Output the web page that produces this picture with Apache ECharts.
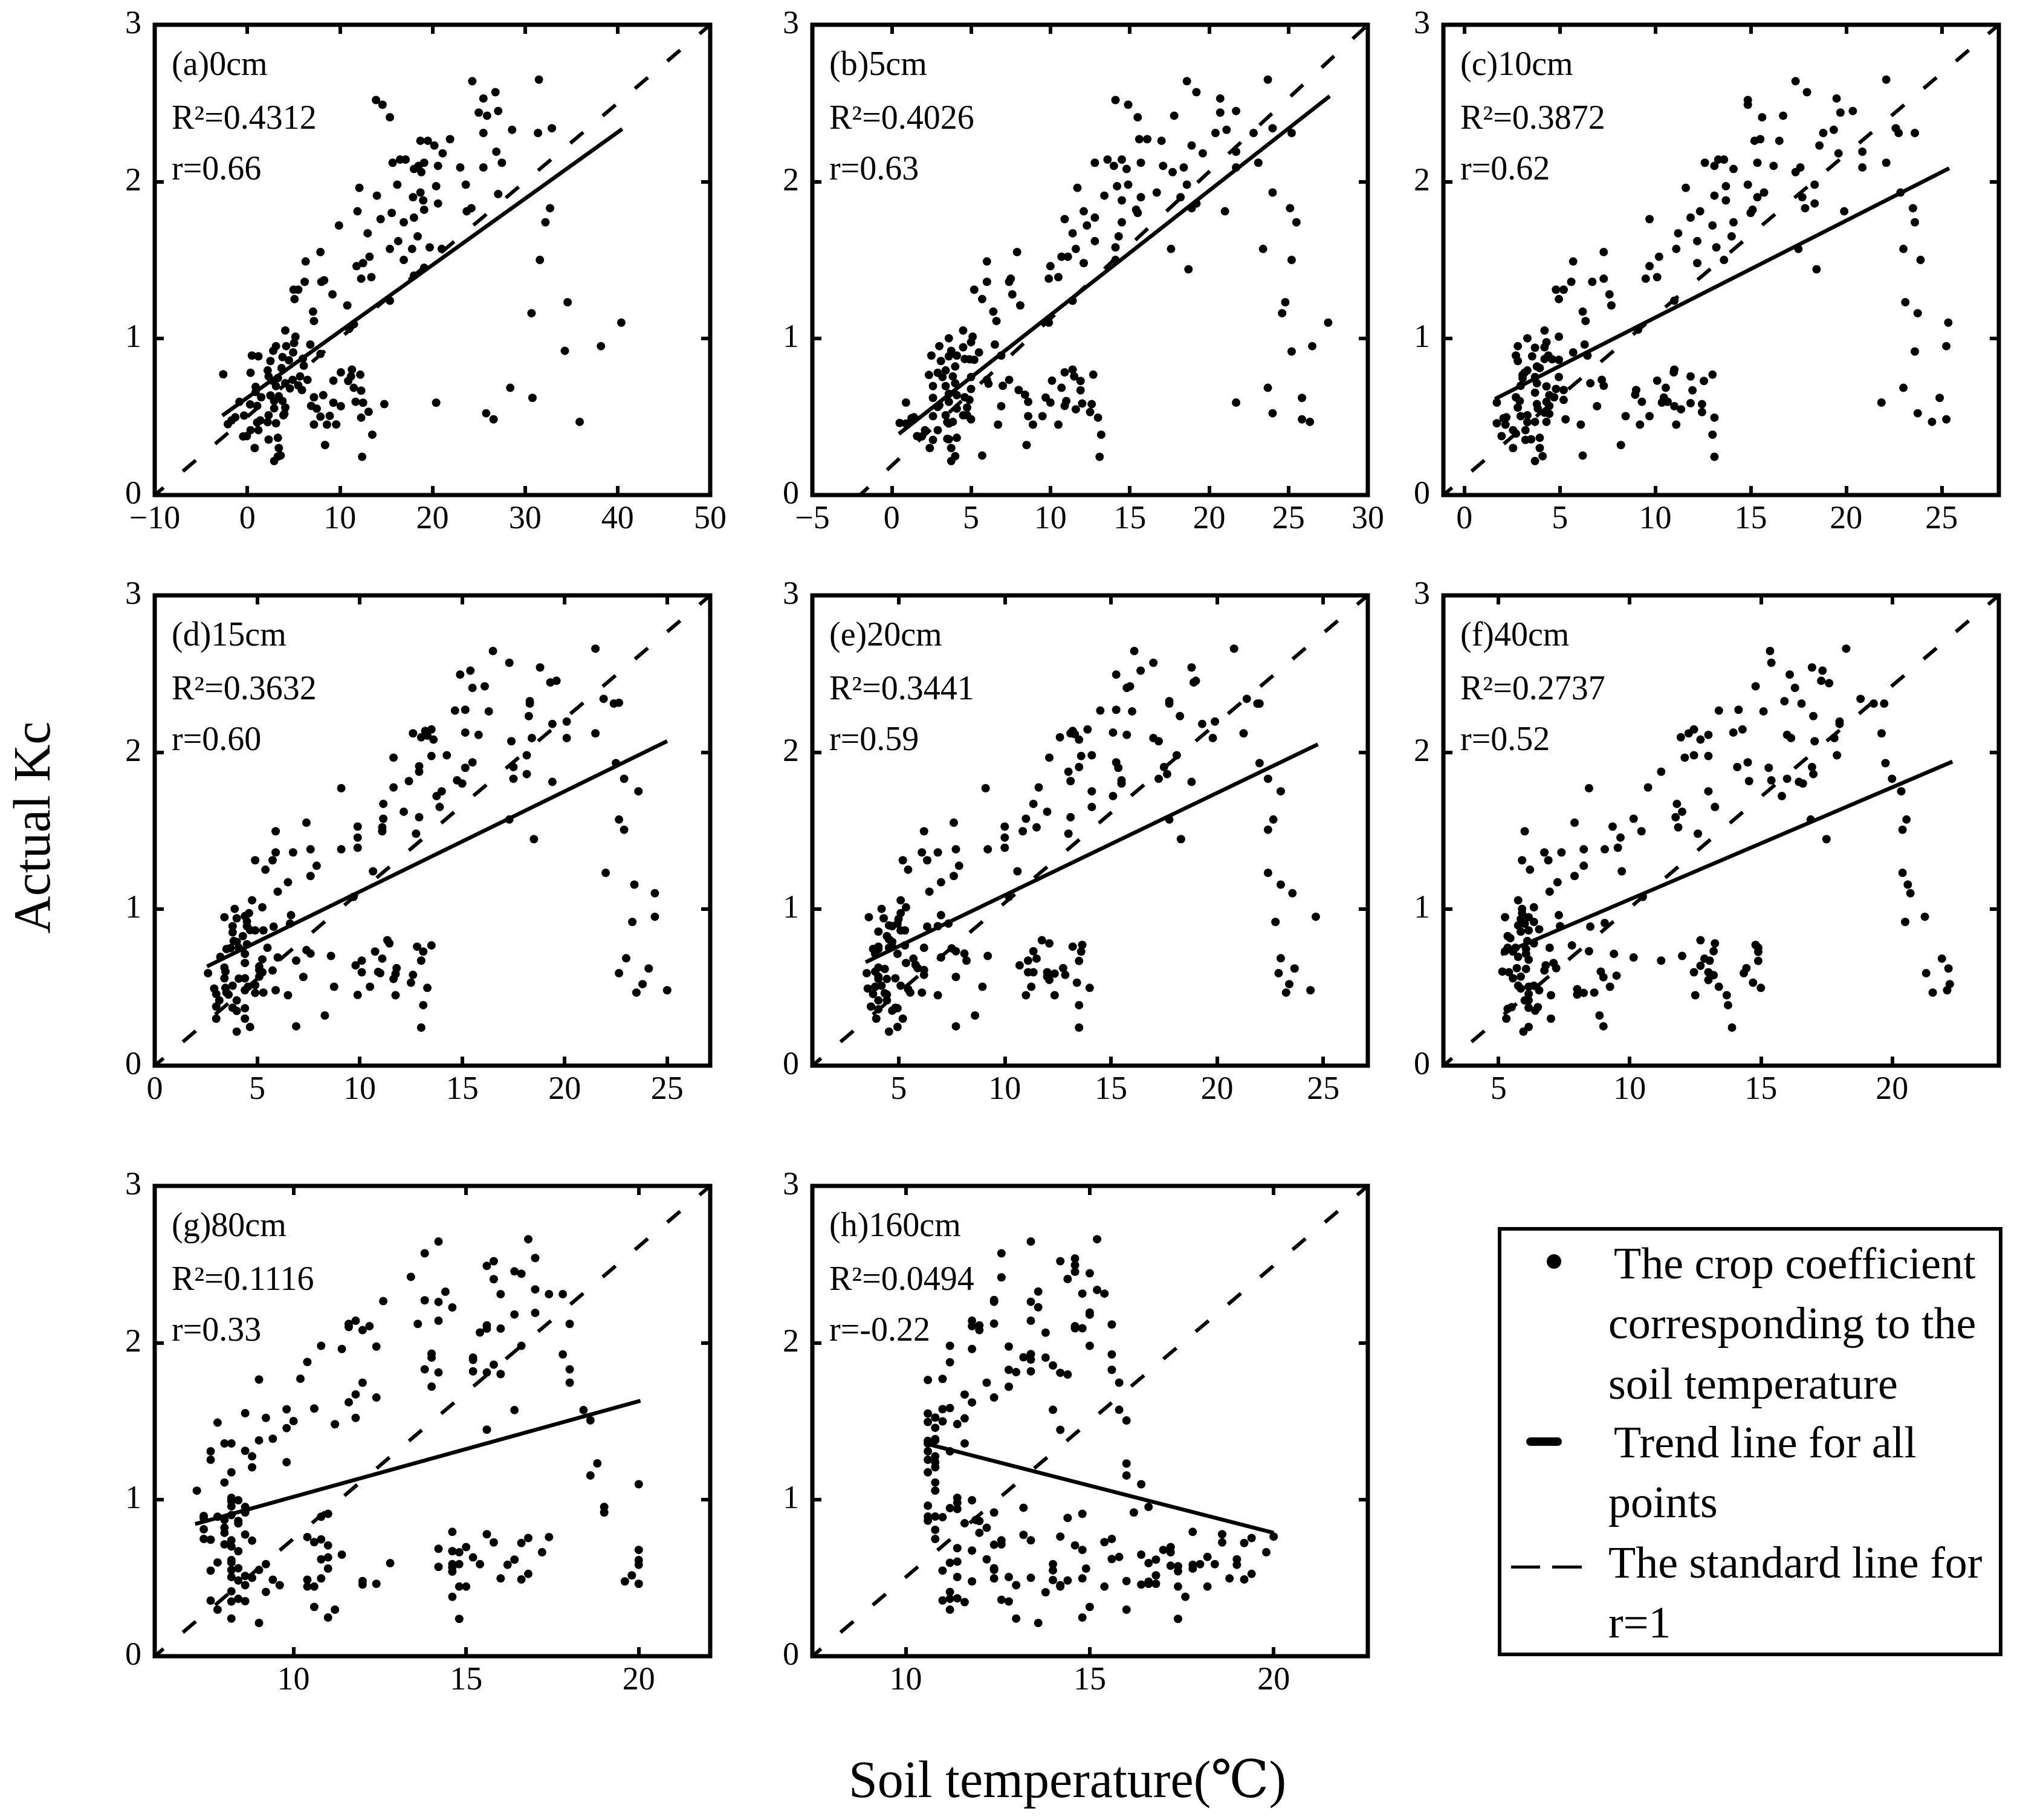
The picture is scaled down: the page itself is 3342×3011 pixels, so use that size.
<!DOCTYPE html>
<html><head><meta charset="utf-8">
<style>html,body{margin:0;padding:0;background:#fff}#c{width:3342px;height:3011px}</style>
<script src="https://cdn.jsdelivr.net/npm/echarts@6/dist/echarts.min.js"></script>
</head><body><div id="c"></div>
<script>
const pointsA=[[24.3,2.64],[31.5,2.65],[26.8,2.57],[25.5,2.53],[13.9,2.52],[14.6,2.49],[15.4,2.41],[25,2.44],[25.9,2.42],[27.1,2.45],[25.5,2.31],[28.6,2.33],[31.4,2.31],[32.9,2.34],[18.7,2.26],[19.5,2.26],[20.2,2.23],[21.9,2.27],[21.1,2.18],[26.9,2.19],[27.5,2.12],[15.7,2.12],[16.5,2.14],[17.1,2.14],[18,2.08],[18.5,2.1],[19.1,2.12],[18.8,2.06],[20.6,2.1],[23,2.09],[25.5,2.09],[12.1,1.96],[16.2,1.98],[20.4,1.97],[23.6,1.98],[27.1,1.92],[14,1.91],[18.7,1.93],[17.9,1.9],[19,1.88],[20.6,1.86],[24.2,1.83],[23.7,1.81],[32.7,1.83],[11.9,1.81],[15.6,1.8],[19.1,1.82],[14.4,1.76],[16.9,1.74],[18,1.77],[32.2,1.74],[9.9,1.72],[13,1.67],[16.3,1.62],[18.4,1.65],[15.4,1.57],[17.8,1.57],[19.7,1.58],[21,1.57],[7.9,1.55],[6.3,1.49],[13.2,1.52],[12.5,1.48],[11.8,1.46],[16.9,1.5],[31.6,1.5],[19.1,1.45],[18,1.4],[12.3,1.38],[13.4,1.39],[8,1.36],[8.3,1.37],[6.2,1.36],[5,1.31],[5.5,1.31],[9.2,1.28],[5.1,1.25],[15.4,1.24],[10.8,1.21],[34.6,1.23],[7.1,1.17],[7.2,1.11],[30.7,1.16],[11.5,1.09],[11,1.06],[40.4,1.1],[4.1,1.05],[5.2,1.01],[5.05,0.97],[6.8,0.96],[38.2,0.95],[34.3,0.92],[0.5,0.89],[1.2,0.885],[2.8,0.92],[3.1,0.95],[4.2,0.95],[2.5,0.855],[3.8,0.88],[4.5,0.86],[4.95,0.91],[6,0.87],[6.1,0.825],[7.9,0.9],[3.7,0.81],[0.35,0.78],[-2.6,0.77],[2.2,0.795],[2.3,0.757],[3.3,0.746],[2.7,0.73],[6.5,0.735],[5.7,0.757],[4.9,0.735],[4.1,0.713],[4.6,0.68],[5.5,0.7],[5.9,0.67],[10.1,0.783],[9.3,0.73],[11.3,0.8],[10.9,0.728],[11.2,0.757],[12.2,0.768],[11.5,0.684],[12.3,0.666],[0.9,0.69],[0.9,0.657],[2.5,0.635],[3.1,0.695],[3.4,0.63],[3.8,0.6],[1.5,0.624],[-0.85,0.595],[0.3,0.578],[1.06,0.569],[2.9,0.6],[2.9,0.553],[4.1,0.558],[4,0.518],[8.2,0.637],[7.2,0.624],[6.9,0.569],[7.5,0.551],[9.3,0.589],[10.1,0.567],[11.7,0.595],[12.5,0.589],[14.8,0.58],[20.4,0.589],[28.4,0.684],[30.8,0.62],[25.8,0.522],[26.6,0.483],[35.9,0.467],[7.9,0.5],[8.9,0.505],[12.3,0.494],[13.1,0.531],[7.2,0.45],[8.6,0.449],[9.6,0.45],[2.3,0.509],[2.2,0.465],[3.1,0.458],[3.9,0.509],[1.4,0.476],[1.06,0.463],[-0.35,0.507],[-1.3,0.496],[-1.7,0.476],[-2.1,0.452],[1.2,0.414],[0.35,0.414],[-0.45,0.374],[-0.05,0.376],[13.5,0.385],[2.3,0.354],[3.3,0.365],[0.8,0.3],[3.4,0.3],[8.4,0.319],[3.6,0.252],[3.3,0.246],[2.9,0.217],[12.4,0.244]];
const pointsB=[[23.7,2.65],[18.6,2.64],[19.2,2.57],[20.7,2.53],[14.1,2.52],[14.9,2.49],[21.7,2.45],[20.7,2.44],[17.8,2.42],[15.5,2.41],[24,2.34],[21.1,2.33],[20.4,2.31],[22.8,2.31],[25.2,2.31],[15.6,2.27],[16.1,2.27],[17,2.26],[18.9,2.23],[21.7,2.19],[19.6,2.18],[13.6,2.14],[14.5,2.14],[12.8,2.12],[14,2.1],[15.7,2.12],[17.1,2.1],[23.1,2.12],[14.8,2.08],[17.7,2.06],[18.4,2.09],[21.7,2.09],[11.7,1.96],[14.2,1.97],[14.9,1.98],[18.6,1.98],[16.7,1.93],[24,1.93],[13.4,1.91],[15.7,1.9],[18.2,1.9],[14.5,1.88],[19.2,1.86],[18.9,1.83],[25.1,1.83],[15.4,1.82],[15.5,1.8],[12.1,1.81],[21,1.81],[10.9,1.76],[12.8,1.77],[14.5,1.74],[25.5,1.74],[12.3,1.72],[11.4,1.67],[14.3,1.65],[12.8,1.62],[11.6,1.57],[14.1,1.58],[17.6,1.57],[23.4,1.57],[7.9,1.55],[10.7,1.52],[11.1,1.52],[6,1.49],[12.1,1.48],[14.1,1.5],[25.2,1.5],[10,1.46],[18.7,1.44],[9.9,1.38],[10.5,1.39],[7.4,1.36],[7.5,1.38],[6,1.36],[5.2,1.31],[7.6,1.28],[5.7,1.25],[11.4,1.24],[24.8,1.23],[8.1,1.21],[6.4,1.17],[24.6,1.16],[6.6,1.11],[9.9,1.1],[27.5,1.1],[4.5,1.05],[5.1,1.01],[3.6,1],[5,0.975],[6.5,0.96],[26.5,0.95],[3,0.95],[4.5,0.943],[25.2,0.916],[3.75,0.92],[5.5,0.91],[2.5,0.89],[3.6,0.885],[4.1,0.89],[6.9,0.89],[4.6,0.868],[4.9,0.866],[5.2,0.863],[3.1,0.855],[4,0.82],[3.4,0.795],[2.9,0.78],[2.35,0.766],[3.2,0.753],[3.85,0.757],[5,0.753],[12.7,0.768],[11.4,0.8],[10.9,0.783],[11.5,0.757],[11.9,0.728],[10.1,0.73],[7.4,0.735],[6,0.735],[6.1,0.71],[7,0.697],[2.6,0.695],[3.4,0.695],[4,0.713],[5,0.677],[10.7,0.684],[11.9,0.668],[8,0.67],[8.4,0.64],[9.7,0.622],[10,0.59],[3.6,0.646],[4.1,0.637],[2.6,0.62],[4.6,0.624],[4.9,0.607],[8.6,0.595],[0.9,0.59],[3.6,0.595],[11,0.6],[10.9,0.569],[12,0.584],[12.6,0.58],[6.9,0.567],[2.9,0.562],[3,0.573],[4.75,0.558],[4.1,0.551],[11.6,0.547],[12.5,0.529],[4.5,0.509],[4.75,0.509],[3.4,0.509],[2.6,0.503],[8.6,0.503],[9.5,0.503],[5,0.483],[13,0.494],[1.4,0.496],[1.25,0.49],[0.5,0.46],[0.9,0.456],[3.5,0.465],[3.85,0.467],[3.6,0.456],[6.7,0.449],[8.9,0.449],[10.5,0.449],[2.1,0.414],[2.9,0.414],[1.6,0.376],[1.9,0.374],[13.2,0.385],[4.1,0.365],[3.5,0.359],[3.6,0.356],[2.6,0.352],[8.5,0.319],[2.4,0.3],[3.75,0.3],[5.7,0.252],[4,0.248],[13.1,0.244],[3.75,0.217],[21.7,0.59],[23.7,0.684],[25.85,0.62],[24,0.522],[25.85,0.483],[26.35,0.467]];
const pointsC=[[22.1,2.65],[17.35,2.64],[17.95,2.57],[19.5,2.53],[14.85,2.52],[14.85,2.49],[19.7,2.44],[20.35,2.45],[16.7,2.42],[15.6,2.41],[22.6,2.34],[22.75,2.31],[19.35,2.33],[18.8,2.31],[23.6,2.31],[15.2,2.26],[15.5,2.27],[16.5,2.26],[18.6,2.23],[20.85,2.19],[19.6,2.18],[13.3,2.14],[13.6,2.14],[12.6,2.12],[13.1,2.1],[15.35,2.12],[16.2,2.1],[22.1,2.12],[14.1,2.08],[17.35,2.06],[17.6,2.09],[20.85,2.09],[11.6,1.96],[14.85,1.98],[13.7,1.97],[18.35,1.98],[15.7,1.93],[22.85,1.93],[13.1,1.91],[15.35,1.9],[17.7,1.9],[13.7,1.88],[18.35,1.86],[17.85,1.83],[23.5,1.83],[15.1,1.82],[15,1.8],[12.35,1.81],[19.9,1.81],[9.7,1.76],[11.85,1.77],[14.1,1.74],[23.6,1.74],[13,1.72],[11.2,1.67],[14,1.65],[12.2,1.62],[11.1,1.57],[13.2,1.58],[17.5,1.57],[23,1.57],[7.3,1.55],[10.2,1.52],[5.7,1.49],[12.2,1.48],[13.6,1.5],[23.9,1.5],[9.7,1.46],[18.45,1.44],[9.5,1.38],[10.1,1.39],[6.7,1.36],[7.3,1.38],[5.6,1.36],[4.8,1.31],[5.2,1.31],[7.6,1.28],[4.95,1.25],[11,1.24],[23.1,1.23],[7.7,1.21],[6.2,1.17],[23.75,1.16],[6.35,1.11],[9.1,1.055],[25.35,1.1],[4.2,1.05],[4.95,1.01],[3.3,1],[4.3,0.975],[6.3,0.96],[25.25,0.95],[2.8,0.95],[4.2,0.943],[23.6,0.916],[3.7,0.94],[5.7,0.91],[2.7,0.89],[3.55,0.885],[4.4,0.89],[6.45,0.89],[4.2,0.868],[4.6,0.866],[4.95,0.863],[2.8,0.855],[3.8,0.82],[3.95,0.81],[3.3,0.795],[3.15,0.78],[3.05,0.766],[3.05,0.745],[3.7,0.753],[4.95,0.753],[13,0.768],[11,0.8],[10.97,0.783],[11.85,0.757],[12.55,0.728],[10.1,0.73],[7.2,0.735],[6.6,0.713],[7.3,0.697],[2.95,0.697],[3.8,0.713],[4.3,0.693],[5.2,0.67],[10.55,0.684],[11.95,0.668],[4.8,0.677],[9,0.67],[8.95,0.64],[10.45,0.622],[10.65,0.595],[3.7,0.653],[4.45,0.637],[2.7,0.624],[4.7,0.624],[4.3,0.595],[1.7,0.59],[3.8,0.58],[2.9,0.6],[2.8,0.558],[5.2,0.607],[9.3,0.595],[10.35,0.59],[11,0.567],[11.85,0.586],[12.45,0.58],[6.95,0.567],[3.85,0.551],[4.45,0.569],[11.35,0.547],[12.45,0.529],[4.45,0.518],[4.2,0.525],[3.3,0.509],[2.95,0.503],[8.45,0.503],[9.7,0.503],[5.3,0.483],[13.1,0.494],[2.2,0.496],[2.05,0.49],[1.7,0.458],[2.15,0.449],[3.3,0.465],[3.7,0.467],[4.3,0.467],[6.1,0.449],[9.2,0.449],[11.1,0.449],[3.2,0.414],[2.55,0.414],[1.95,0.376],[2.7,0.392],[13,0.385],[3.95,0.365],[3.2,0.352],[3.5,0.356],[2.55,0.3],[3.95,0.3],[8.2,0.319],[6.2,0.252],[4.1,0.248],[13.1,0.244],[3.7,0.217],[23,0.684],[21.85,0.59],[24.9,0.62],[23.75,0.522],[24.5,0.467],[25.25,0.483]];
const pointsD=[[16.5,2.645],[21.5,2.66],[17.3,2.57],[18.8,2.54],[15.4,2.52],[14.9,2.495],[19.6,2.455],[19.3,2.445],[15.5,2.41],[16.1,2.42],[21.9,2.34],[18.3,2.325],[18.3,2.31],[22.4,2.31],[22.65,2.315],[14.65,2.265],[15.15,2.27],[16.3,2.26],[18.25,2.23],[20.1,2.195],[19.4,2.18],[13.2,2.135],[13.5,2.145],[12.6,2.12],[13,2.095],[13.3,2.105],[15.15,2.125],[15.8,2.11],[21.5,2.12],[13.6,2.08],[17.4,2.07],[18.4,2.09],[20.1,2.09],[11.65,1.965],[13.5,1.975],[14.25,1.98],[18.15,1.98],[15.5,1.935],[22.5,1.93],[12.9,1.91],[15.15,1.9],[17.5,1.905],[12.9,1.875],[18.15,1.86],[17.5,1.83],[22.9,1.83],[14.75,1.82],[15,1.8],[12.4,1.815],[19.4,1.81],[9.1,1.77],[11.65,1.775],[14,1.75],[23.6,1.75],[13.75,1.72],[11.15,1.67],[13.9,1.65],[12.15,1.62],[11.15,1.575],[12.9,1.585],[17.3,1.57],[22.65,1.57],[7.4,1.55],[9.9,1.525],[11.1,1.52],[11.1,1.495],[5.9,1.495],[12.75,1.48],[22.9,1.505],[9.9,1.455],[18.5,1.445],[9.9,1.39],[9.1,1.38],[7.6,1.38],[6.75,1.36],[5.9,1.36],[5.75,1.31],[4.9,1.31],[5.4,1.25],[7.9,1.275],[10.65,1.24],[22,1.23],[7.6,1.21],[6.5,1.17],[23.4,1.155],[6,1.11],[24.4,1.1],[9.7,1.077],[4.75,1.055],[5.25,1.01],[3.9,1],[4.6,0.973],[6.65,0.96],[24.4,0.95],[3.4,0.947],[4,0.94],[4.4,0.954],[4.5,0.92],[23.3,0.917],[6.6,0.906],[4.5,0.89],[3.8,0.89],[5.8,0.887],[4.65,0.865],[4.9,0.863],[5.3,0.863],[3.8,0.85],[4.3,0.826],[3.85,0.795],[4,0.79],[4.5,0.774],[3.5,0.744],[3.7,0.75],[4.1,0.752],[3.2,0.694],[5.5,0.752],[11.35,0.8],[11.45,0.78],[13.5,0.767],[12.8,0.759],[7.4,0.737],[7.6,0.715],[13.1,0.728],[10.75,0.728],[6,0.69],[8.6,0.7],[4.4,0.713],[11.1,0.683],[6.9,0.67],[10.1,0.67],[13,0.67],[4.4,0.655],[5.25,0.678],[9.8,0.64],[5.1,0.633],[3.4,0.626],[11.8,0.622],[3.45,0.6],[2.6,0.59],[5.1,0.61],[5.75,0.607],[10.1,0.596],[10.9,0.598],[11,0.59],[11.75,0.585],[5.25,0.596],[12.6,0.579],[11.65,0.553],[7.25,0.566],[3.4,0.557],[4.1,0.555],[4.4,0.557],[5.1,0.568],[12.5,0.529],[10.5,0.503],[8.75,0.503],[13.3,0.496],[4.9,0.514],[4.55,0.503],[3.8,0.51],[2.9,0.492],[3.45,0.496],[3.5,0.466],[4.4,0.481],[3,0.457],[3.6,0.453],[4.9,0.464],[5.3,0.466],[5.9,0.481],[6.5,0.449],[9.9,0.451],[11.75,0.449],[3.15,0.416],[4,0.416],[13.1,0.386],[3,0.377],[3.8,0.369],[4,0.349],[4.4,0.366],[8.3,0.32],[3,0.3],[4.4,0.3],[6.9,0.251],[4.65,0.247],[13,0.243],[4,0.217],[23,0.685],[22.65,0.59],[24.1,0.62],[23.8,0.52],[23.5,0.466],[25,0.481]];
const pointsE=[[16.1,2.645],[20.8,2.66],[17,2.57],[16.4,2.52],[18.8,2.54],[15.25,2.495],[19,2.455],[18.9,2.445],[15.75,2.41],[15.9,2.42],[21.4,2.34],[17.75,2.325],[17.75,2.31],[21.9,2.31],[22,2.31],[14.5,2.265],[15.25,2.27],[16,2.26],[18.25,2.23],[19.9,2.195],[19.3,2.18],[13.2,2.135],[13.9,2.145],[12.6,2.095],[13.1,2.12],[13.3,2.115],[15.1,2.125],[15.75,2.11],[21.25,2.12],[13.5,2.08],[17.25,2.07],[17,2.09],[19.8,2.09],[12.1,1.965],[13.6,1.975],[14.1,1.98],[18.1,1.98],[15.25,1.935],[22,1.93],[13.5,1.905],[15.35,1.9],[17.5,1.905],[13,1.875],[17.65,1.86],[17.25,1.83],[22.4,1.83],[15.5,1.82],[15.5,1.8],[13.1,1.815],[18.8,1.81],[9.1,1.77],[11.6,1.775],[14.1,1.75],[23,1.75],[15.1,1.72],[11.35,1.67],[14.1,1.65],[12,1.62],[11,1.575],[13.1,1.585],[17.75,1.57],[22.65,1.57],[7.6,1.55],[10,1.525],[11.5,1.52],[10.85,1.495],[6.2,1.495],[13,1.48],[22.4,1.505],[10,1.455],[18.3,1.445],[10,1.39],[9.2,1.38],[7.7,1.38],[6.1,1.36],[6.85,1.36],[5.2,1.31],[6.35,1.31],[5.45,1.25],[7.85,1.275],[10.6,1.24],[22.4,1.23],[7.6,1.21],[7,1.17],[23,1.155],[6.45,1.11],[23.55,1.1],[10.2,1.077],[5.1,1.055],[5.35,1.01],[4.2,1],[5.1,0.973],[7,0.96],[24.65,0.95],[3.6,0.947],[4.3,0.94],[5,0.935],[22.75,0.917],[4.95,0.906],[4.7,0.89],[7.35,0.906],[6.85,0.89],[4.55,0.895],[6.35,0.887],[5.1,0.863],[5.3,0.863],[4.05,0.855],[4.45,0.826],[4.55,0.806],[4.7,0.79],[4.05,0.759],[3.8,0.744],[4.05,0.744],[4.55,0.752],[4.7,0.759],[5.3,0.767],[6.2,0.752],[3.9,0.713],[11.75,0.8],[12.1,0.78],[13.65,0.77],[13.2,0.759],[7.5,0.748],[7.7,0.73],[13.6,0.728],[11.35,0.73],[8.1,0.715],[4.95,0.713],[9.2,0.7],[11.5,0.683],[7,0.69],[5.7,0.683],[11.1,0.67],[8.2,0.67],[13.5,0.668],[5.35,0.655],[5.8,0.643],[10.7,0.64],[12.75,0.622],[5.9,0.622],[4.05,0.626],[4.35,0.617],[3.5,0.59],[3.9,0.6],[6.2,0.61],[11.1,0.596],[11.35,0.596],[12,0.596],[12.35,0.587],[4.45,0.553],[4.05,0.568],[6.2,0.579],[12.85,0.579],[7.7,0.566],[4.05,0.553],[4.85,0.557],[12,0.568],[12.1,0.547],[13.4,0.529],[11.25,0.503],[8.95,0.503],[14,0.496],[5.1,0.51],[3.55,0.492],[4.2,0.51],[3.9,0.503],[5.45,0.488],[3.8,0.457],[4.45,0.453],[4.35,0.462],[5.55,0.466],[6.1,0.466],[6.85,0.449],[11,0.449],[12.35,0.449],[4.05,0.416],[4.45,0.416],[13.5,0.386],[3.7,0.377],[4.7,0.351],[4.95,0.366],[4.85,0.369],[4.05,0.36],[5.2,0.3],[3.95,0.3],[8.6,0.32],[7.7,0.251],[4.95,0.247],[13.5,0.243],[4.55,0.217],[23,0.685],[22.9,0.59],[23.65,0.62],[23.4,0.52],[23.25,0.466],[24.4,0.481]];
const pointsF=[[15.35,2.645],[18.25,2.66],[15.4,2.57],[16.95,2.54],[17.35,2.52],[16.1,2.495],[17.3,2.455],[17.6,2.44],[16.3,2.41],[14.8,2.42],[18.8,2.34],[15.9,2.325],[16.55,2.31],[19.3,2.31],[19.7,2.31],[13.4,2.265],[14.15,2.27],[15.1,2.26],[17,2.23],[18,2.195],[18,2.18],[12.45,2.145],[14.3,2.145],[12.25,2.12],[11.95,2.095],[13.95,2.125],[13,2.11],[19.6,2.12],[12.7,2.08],[16,2.11],[16.15,2.09],[17.05,2.07],[17.8,2.09],[12.1,1.965],[12.45,1.98],[13,1.975],[17.9,1.98],[14.5,1.935],[19.75,1.93],[14.1,1.905],[15.3,1.9],[16.95,1.905],[11.2,1.875],[17,1.86],[16,1.83],[20,1.83],[14.55,1.815],[15.4,1.82],[16.45,1.81],[16.6,1.8],[8.45,1.77],[10.7,1.775],[13,1.75],[20.35,1.75],[15.8,1.72],[11.8,1.67],[13.25,1.65],[12,1.62],[11.75,1.585],[10.15,1.575],[16.9,1.57],[20.55,1.57],[7.9,1.55],[9.35,1.525],[11.85,1.52],[10.45,1.495],[6,1.495],[12.6,1.48],[20.4,1.505],[9.65,1.455],[17.5,1.445],[9.55,1.39],[9.05,1.38],[8.25,1.38],[7.4,1.36],[6.75,1.36],[5.9,1.31],[6.9,1.31],[6.2,1.25],[8.25,1.275],[9.7,1.24],[20.4,1.23],[7.9,1.21],[7.25,1.17],[20.6,1.155],[6.95,1.11],[20.7,1.1],[10.5,1.077],[5.75,1.055],[6.35,1.01],[5.9,1],[5.9,0.973],[7.3,0.96],[21.25,0.95],[5.25,0.947],[6.15,0.947],[5.85,0.935],[20.5,0.917],[9.05,0.91],[6.35,0.917],[5.75,0.895],[6,0.905],[7.35,0.89],[8.5,0.887],[5.85,0.855],[6.15,0.863],[6.55,0.87],[5.35,0.826],[5.45,0.813],[6.1,0.795],[6.35,0.78],[5.35,0.752],[5.65,0.752],[6.05,0.743],[6.95,0.752],[7.8,0.767],[12.7,0.8],[13.25,0.78],[14.8,0.77],[14.9,0.752],[8.45,0.73],[13.2,0.73],[14.9,0.726],[5.25,0.73],[5.55,0.728],[6.05,0.713],[5.75,0.694],[6.15,0.676],[9.4,0.713],[10.15,0.69],[12,0.7],[11.2,0.67],[12.85,0.683],[13.05,0.67],[14.9,0.668],[7.1,0.655],[6.8,0.64],[12.7,0.637],[7.2,0.622],[5.7,0.622],[6.05,0.617],[14.45,0.622],[5.15,0.6],[6.75,0.607],[5.4,0.596],[8.9,0.6],[12.45,0.596],[13,0.596],[14.35,0.59],[9.5,0.574],[13.2,0.577],[5.85,0.568],[9,0.564],[5.55,0.557],[13,0.546],[14.7,0.529],[9.25,0.503],[13.4,0.503],[15,0.496],[5.75,0.51],[6.35,0.51],[6.15,0.503],[5.85,0.492],[6.55,0.481],[8,0.488],[8,0.453],[8.25,0.464],[8.65,0.466],[6.15,0.457],[7,0.449],[12.5,0.449],[13.7,0.449],[21.55,0.466],[22.1,0.481],[22.2,0.52],[22.15,0.62],[21.9,0.683],[21.3,0.59],[6,0.416],[6.15,0.416],[13.75,0.386],[5.35,0.362],[5.5,0.373],[6.15,0.369],[6.4,0.351],[6.5,0.373],[8.85,0.32],[5.3,0.3],[7,0.3],[9,0.251],[6.15,0.247],[13.9,0.243],[5.95,0.217]];
const pointsG=[[14.2,2.645],[16.8,2.66],[13.8,2.57],[17,2.54],[15.8,2.52],[15.6,2.49],[16.4,2.455],[16.6,2.44],[13.4,2.42],[15.8,2.405],[14.4,2.325],[17,2.34],[16,2.31],[17.4,2.31],[17.8,2.31],[13.8,2.27],[14.2,2.26],[12.6,2.265],[14.6,2.225],[17,2.19],[16.4,2.18],[14.2,2.14],[13.6,2.12],[11.8,2.14],[11.6,2.12],[11.6,2.1],[12.2,2.105],[12,2.08],[15.6,2.11],[15.6,2.09],[16,2.09],[18,2.12],[15.4,2.065],[10.8,1.98],[11.4,1.96],[12.4,1.975],[16.6,1.98],[14,1.93],[14,1.905],[15.2,1.905],[15.2,1.89],[17.8,1.925],[10.4,1.877],[15.8,1.86],[13.8,1.83],[14.2,1.81],[15.2,1.817],[15.6,1.81],[16,1.8],[18,1.83],[18,1.745],[9,1.765],[10.2,1.77],[12,1.745],[14,1.72],[11.8,1.67],[12.4,1.65],[11.6,1.62],[10.6,1.58],[9.8,1.575],[8.6,1.55],[16.4,1.57],[18.4,1.57],[9.2,1.52],[11.8,1.52],[7.8,1.49],[10,1.5],[11.2,1.48],[18.6,1.505],[9.8,1.455],[15.6,1.445],[9.4,1.387],[9,1.377],[8,1.357],[8.2,1.357],[7.6,1.307],[8.6,1.31],[8.8,1.275],[7.6,1.253],[9.8,1.238],[18.8,1.23],[8.8,1.205],[8.2,1.173],[18.6,1.153],[8,1.108],[20,1.097],[7.2,1.056],[8.2,1.01],[19,0.952],[8.2,0.989],[8.4,0.995],[8.2,0.956],[8.6,0.952],[8.6,0.917],[19,0.917],[11,0.908],[10.8,0.89],[7.4,0.895],[7.4,0.88],[7.8,0.89],[8,0.87],[8.2,0.9],[8.4,0.863],[8.4,0.847],[8,0.82],[7.4,0.81],[8,0.787],[14.6,0.793],[15.6,0.778],[8.6,0.776],[10.4,0.76],[17.4,0.76],[7.4,0.748],[7.6,0.743],[16.8,0.754],[8.8,0.737],[8.2,0.739],[10.8,0.745],[10.6,0.728],[15.8,0.726],[16.6,0.722],[8,0.713],[11,0.707],[8.2,0.7],[8.4,0.67],[14.2,0.685],[15,0.696],[14.6,0.67],[14.8,0.663],[20,0.678],[17.2,0.663],[11.4,0.648],[15.2,0.63],[11,0.63],[10.8,0.618],[8.2,0.613],[8.2,0.598],[16.4,0.616],[9.2,0.587],[20,0.613],[20,0.583],[12.8,0.594],[7.8,0.598],[14.8,0.587],[15.4,0.587],[16.2,0.583],[14.6,0.587],[14.2,0.57],[14.6,0.566],[8.4,0.561],[8.2,0.55],[11,0.559],[7.6,0.546],[9,0.55],[14.6,0.54],[16.8,0.525],[19.8,0.516],[8.2,0.505],[8.6,0.512],[8.8,0.5],[10.8,0.496],[16,0.496],[16.6,0.49],[8.4,0.483],[9.4,0.488],[10.4,0.488],[19.6,0.477],[12,0.479],[12,0.457],[12.4,0.462],[20,0.462],[8.6,0.453],[9.6,0.453],[10.4,0.444],[10.6,0.444],[14.8,0.444],[15,0.444],[8.2,0.414],[9.2,0.41],[14.6,0.379],[7.6,0.355],[8.4,0.366],[8.2,0.349],[8.6,0.351],[10.6,0.314],[7.8,0.297],[11.2,0.297],[8.2,0.24],[11,0.247],[14.8,0.238],[9,0.212]];
const pointsH=[[15.2,2.66],[13.4,2.645],[12.6,2.57],[14.2,2.52],[14.6,2.537],[14.6,2.495],[14.6,2.452],[15,2.443],[14.4,2.406],[12.6,2.417],[13.6,2.326],[15.2,2.337],[15.4,2.313],[14.8,2.313],[12.4,2.272],[12.4,2.261],[13.4,2.261],[13.6,2.226],[15,2.192],[15,2.179],[13.4,2.14],[11.8,2.14],[12.4,2.122],[15.6,2.116],[11.8,2.105],[12,2.11],[12,2.08],[14.6,2.105],[14.6,2.092],[14.8,2.092],[13.8,2.064],[11.2,1.98],[12.8,1.975],[15,1.98],[11.8,1.96],[13.4,1.927],[15.6,1.925],[13.2,1.907],[13.4,1.892],[13.8,1.905],[11.2,1.875],[14,1.855],[12.8,1.827],[13,1.812],[13.4,1.817],[15.6,1.827],[14.2,1.808],[14.4,1.797],[10.6,1.762],[11,1.769],[12.2,1.745],[15.8,1.745],[12.8,1.719],[11.6,1.669],[12.4,1.65],[11.8,1.619],[11,1.576],[11.2,1.583],[14,1.572],[15.8,1.572],[10.6,1.548],[10.8,1.522],[11.6,1.517],[10.6,1.494],[11,1.498],[16,1.504],[11.4,1.481],[10.8,1.457],[14.2,1.444],[10.8,1.385],[10.8,1.377],[10.6,1.374],[10.6,1.357],[11.6,1.357],[10.6,1.307],[11.2,1.307],[10.8,1.275],[10.6,1.253],[10.8,1.238],[16,1.229],[10.8,1.205],[10.6,1.173],[16,1.153],[10.8,1.108],[16.4,1.097],[10.8,1.056],[11.4,1.01],[11.8,0.995],[11.4,0.978],[10.6,0.96],[16.6,0.952],[13.2,0.947],[11.2,0.945],[11.4,0.939],[12.4,0.917],[16.2,0.917],[14.8,0.908],[14.4,0.882],[10.6,0.891],[10.8,0.891],[11,0.887],[10.6,0.865],[11.9,0.869],[12,0.863],[11.6,0.848],[12.2,0.819],[10.8,0.806],[17.8,0.793],[12,0.787],[13.2,0.774],[18.6,0.778],[14.2,0.763],[20,0.763],[15.6,0.748],[19.4,0.754],[10.8,0.748],[13.4,0.739],[15.4,0.728],[18.6,0.726],[19.2,0.722],[12.6,0.739],[12.4,0.711],[12.6,0.713],[14.6,0.707],[17.2,0.696],[11.4,0.689],[14.8,0.678],[17,0.678],[17.2,0.663],[11.8,0.674],[16.4,0.648],[19.8,0.663],[15.8,0.633],[18.2,0.633],[12.2,0.618],[15.6,0.62],[16.8,0.616],[19,0.618],[11.2,0.596],[11.4,0.603],[14,0.587],[18.4,0.587],[16.6,0.594],[19,0.583],[18,0.587],[17.2,0.577],[17.4,0.574],[17.8,0.583],[12.4,0.561],[14.9,0.559],[17.8,0.559],[11,0.546],[14,0.548],[12.4,0.551],[17.4,0.542],[19.4,0.525],[16.8,0.516],[11.4,0.505],[12.4,0.496],[12.8,0.505],[13.4,0.5],[14.8,0.496],[18.8,0.496],[14,0.486],[14.4,0.483],[16,0.479],[19.2,0.49],[11.8,0.477],[16.6,0.475],[13,0.453],[14.2,0.453],[15.4,0.444],[16.4,0.457],[16.6,0.462],[16.8,0.462],[17.4,0.444],[18.2,0.444],[14.2,0.444],[11.2,0.41],[13.8,0.408],[17.6,0.379],[11,0.356],[11.2,0.366],[11.4,0.369],[12.6,0.36],[12.8,0.349],[11.6,0.345],[11.2,0.297],[15,0.314],[16,0.297],[13,0.24],[14.8,0.247],[17.4,0.238],[13.6,0.212]];

const pointSets=[pointsA,pointsB,pointsC,pointsD,pointsE,pointsF,pointsG,pointsH];
const xRanges=[[-10,50],[-5,30],[-1.1,28],[0,27.1],[0.94,27.1],[2.9,24.07],[5.98,22.07],[7.46,22.56]];
const xTickSets=[[-10,0,10,20,30,40,50],[-5,0,5,10,15,20,25,30],[0,5,10,15,20,25],[0,5,10,15,20,25],[5,10,15,20,25],[5,10,15,20],[10,15,20],[10,15,20]];
const yTicks=[0,1,2,3];
const trendLines=[[[-2.7,0.507],[40.5,2.335]],[[0.45,0.39],[27.6,2.545]],[[1.6,0.613],[25.4,2.085]],[[2.55,0.633],[25,2.07]],[[3.45,0.66],[24.75,2.05]],[[5.1,0.71],[22.3,1.94]],[[7.15,0.843],[20.05,1.63]],[[10.6,1.353],[20,0.787]]];
const standardLines=[[[-10,0],[50,3]],[[-2,0],[30,3]],[[-1.1,0],[28,3]],[[0,0],[27.1,3]],[[0.94,0],[27.1,3]],[[2.9,0],[24.07,3]],[[5.98,0],[22.07,3]],[[7.46,0],[22.56,3]]];
const panelNames=['(a)0cm','(b)5cm','(c)10cm','(d)15cm','(e)20cm','(f)40cm','(g)80cm','(h)160cm'];
const r2Texts=['R²=0.4312','R²=0.4026','R²=0.3872','R²=0.3632','R²=0.3441','R²=0.2737','R²=0.1116','R²=0.0494'];
const rTexts=['r=0.66','r=0.63','r=0.62','r=0.60','r=0.59','r=0.52','r=0.33','r=-0.22'];
const legendLines=[['The crop coefficient',2670,2096],['corresponding to the',2661,2195],['soil temperature',2661,2295],['Trend line for all',2670,2392],['points',2661,2491],['The standard line for',2661,2591],['r=1',2661,2690]];

const FONT='"Liberation Serif","DejaVu Serif",serif';
const colLeft=[256,1344,2388], rowTop=[41,985,1962], W=919, H=778;
const grid=[],xAxis=[],yAxis=[],series=[],graphic=[];
const fmt=v=>String(v).replace('-','\u2212');
pointSets.forEach((pts,i)=>{
  const left=colLeft[i%3], top=rowTop[Math.floor(i/3)];
  grid.push({left,top,width:W,height:H,show:true,borderWidth:7,borderColor:'#000',backgroundColor:'transparent'});
  const ax=(pos,show)=>({gridIndex:i,type:'value',position:pos,min:xRanges[i][0],max:xRanges[i][1],splitLine:{show:false},axisLine:{show:false,onZero:false},
    axisTick:{show:true,inside:true,length:15,lineStyle:{width:6,color:'#000'},customValues:xTickSets[i]},
    axisLabel:{show:show,margin:14,fontFamily:FONT,fontSize:54,color:'#000',formatter:fmt,customValues:xTickSets[i],hideOverlap:false}});
  const ay=(pos,show)=>({gridIndex:i,type:'value',position:pos,min:0,max:3,splitLine:{show:false},axisLine:{show:false,onZero:false},
    axisTick:{show:true,inside:true,length:15,lineStyle:{width:6,color:'#000'},customValues:yTicks},
    axisLabel:{show:show,margin:22,fontFamily:FONT,fontSize:54,color:'#000',customValues:yTicks,hideOverlap:false}});
  const xi=xAxis.length, yi=yAxis.length;
  xAxis.push(ax('bottom',true),ax('top',false));
  yAxis.push(ay('left',true),ay('right',false));
  series.push({type:'scatter',name:'The crop coefficient',xAxisIndex:xi,yAxisIndex:yi,data:pts,symbol:'circle',symbolSize:14,itemStyle:{color:'#000',opacity:1},silent:true,clip:false,z:3});
  series.push({type:'line',name:'Trend line',xAxisIndex:xi,yAxisIndex:yi,data:trendLines[i],symbol:'none',lineStyle:{color:'#000',width:6.5},silent:true,z:4});
  series.push({type:'line',name:'Standard line',xAxisIndex:xi,yAxisIndex:yi,data:standardLines[i],symbol:'none',lineStyle:{color:'#000',width:6,type:[28,42],dashOffset:9},silent:true,z:2});
  [[panelNames[i],68],[r2Texts[i],157],[rTexts[i],241]].forEach(([t,dy])=>{
    graphic.push({type:'text',left:left+28,top:top+dy-30,style:{text:t,fontFamily:FONT,fontSize:56,fill:'#000',lineHeight:60}});
  });
});
graphic.push({type:'text',x:59,y:1369,rotation:Math.PI/2,style:{text:'Actual Kc',fontFamily:FONT,fontSize:86,fill:'#000',align:'center',verticalAlign:'middle'}});
graphic.push({type:'text',x:1766,y:2950,style:{text:'Soil temperature(\u2103)',fontFamily:FONT,fontSize:86,fill:'#000',align:'center',verticalAlign:'middle'}});
graphic.push({type:'rect',shape:{x:2481,y:2033,width:829,height:704},style:{fill:'none',stroke:'#000',lineWidth:6}});
graphic.push({type:'circle',shape:{cx:2571,cy:2087,r:12},style:{fill:'#000'}});
graphic.push({type:'rect',shape:{x:2525,y:2378,width:59,height:14,r:7},style:{fill:'#000'}});
graphic.push({type:'rect',shape:{x:2500,y:2590,width:48,height:5},style:{fill:'#000'}});
graphic.push({type:'rect',shape:{x:2568,y:2590,width:49,height:5},style:{fill:'#000'}});
legendLines.forEach(([t,x,y])=>graphic.push({type:'text',x,y,style:{text:t,fontFamily:FONT,fontSize:74,fill:'#000',verticalAlign:'middle'}}));

const chart=echarts.init(document.getElementById('c'),null,{renderer:'canvas',width:3342,height:3011});
chart.setOption({animation:false,backgroundColor:'#fff',grid,xAxis,yAxis,series,graphic});
</script></body></html>
